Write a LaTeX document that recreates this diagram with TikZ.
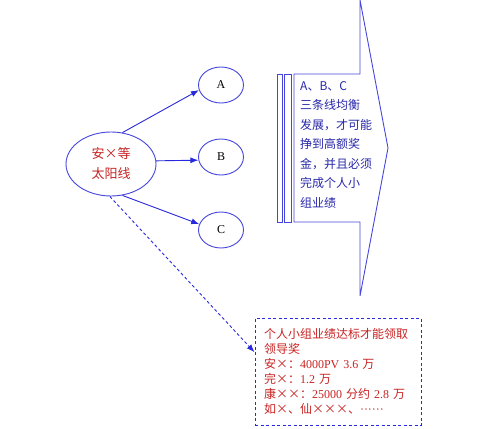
\documentclass[tikz,border=0pt]{standalone}
\usepackage{fontspec}
\setmainfont{Liberation Serif}
\newfontfamily\cjk{Noto Sans CJK SC}
\usetikzlibrary{arrows.meta,shapes.geometric}
\definecolor{lineblue}{RGB}{70,70,220}
\definecolor{arrblue}{RGB}{40,40,220}
\definecolor{txtred}{RGB}{200,35,35}
\definecolor{txtblue}{RGB}{40,40,170}
\newcommand{\lat}[1]{{\rmfamily #1}}
\tikzset{
  oval/.style={ellipse, draw=lineblue, line width=0.9pt, inner sep=0pt, fill=white},
  conn/.style={draw=arrblue, line width=0.9pt, -{Latex[length=8pt,width=6pt]}},
  dconn/.style={conn, dashed, dash pattern=on 3pt off 2.5pt},
  outline/.style={draw=lineblue, line width=0.9pt},
  notebox/.style={draw=arrblue, line width=0.9pt, dash pattern=on 3pt off 2.5pt, rectangle,
    minimum width=166pt, minimum height=107pt, inner xsep=9pt, text width=148pt, align=left,
    font=\cjk\fontsize{12}{15}\selectfont, text=txtred}
}
\begin{document}
\begin{tikzpicture}[x=1pt,y=-1pt]
\useasboundingbox (0,0) rectangle (500,428);
% ellipses
\node[oval, minimum width=90pt, minimum height=64pt, text=txtred, align=center,
      font=\cjk\fontsize{13}{20}\selectfont] (main) at (111,164) {安×等\\太阳线};
\node[oval, minimum width=45pt, minimum height=36pt, font=\fontsize{12}{14}\selectfont] (A) at (221,85) {A};
\node[oval, minimum width=45pt, minimum height=36pt, font=\fontsize{12}{14}\selectfont] (B) at (221,157) {B};
\node[oval, minimum width=45pt, minimum height=36pt, font=\fontsize{12}{14}\selectfont] (C) at (221,230) {C};
% connectors
\draw[conn] (main.70) -- (A.193);
\draw[conn] (main.4) -- (B.188);
\draw[conn] (main.-70) -- (C.165);
% block arrow
\draw[outline] (360,0) -- (360,74) -- (294,74) -- (294,222) -- (360,222) -- (360,296) -- (388,148) -- cycle;
\draw[outline] (277,74) rectangle (282,222);
\draw[outline] (284,74) rectangle (291,222);
\node[anchor=north west, inner sep=0pt, align=left, text=txtblue,
      font=\cjk\fontsize{12}{19.5}\selectfont] (arrtxt) at (300,81)
  {A、B、C\\三条线均衡\\发展，才可能\\挣到高额奖\\金，并且必须\\完成个人小\\组业绩};
% note box
\node[notebox] (box) at (338,371.5)
  {个人小组业绩达标才能领取\\领导奖\\安×：\lat{4000PV 3.6} 万\\完×：\lat{1.2} 万\\康××：\lat{25000} 分约 \lat{2.8} 万\\如×、仙×××、\lat{\textperiodcentered\textperiodcentered\textperiodcentered\textperiodcentered\textperiodcentered\textperiodcentered}};
\draw[dconn] (main.-92) -- (box.167.4);
\end{tikzpicture}
\end{document}
